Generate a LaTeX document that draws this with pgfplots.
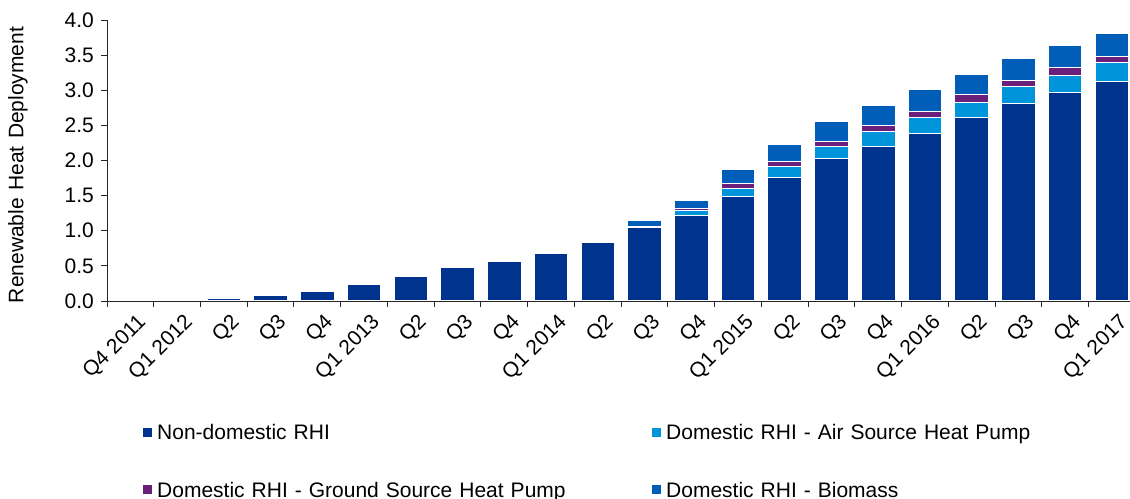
\documentclass[border=0pt]{standalone}
\usepackage{pgfplots}
\usepackage{pgfplotstable}
\pgfplotsset{compat=1.18}
\usepackage{fontspec}
\setmainfont{Liberation Sans}
\definecolor{cnd}{HTML}{00338D}
\definecolor{cash}{HTML}{0094DA}
\definecolor{cgs}{HTML}{6A1F7A}
\definecolor{cbio}{HTML}{005EB8}
\pgfplotstableread{
idx nd ash gs bio
0 0 0 0 0
1 0.005 0 0 0
2 0.038 0 0 0
3 0.076 0 0 0
4 0.142 0 0 0
5 0.232 0 0 0
6 0.346 0 0 0
7 0.479 0 0 0
8 0.568 0 0 0
9 0.678 0 0 0
10 0.83 0 0 0
11 1.04 0.015 0.01 0.085
12 1.22 0.068 0.029 0.12
13 1.49 0.111 0.071 0.194
14 1.757 0.159 0.068 0.242
15 2.029 0.171 0.071 0.286
16 2.205 0.203 0.09 0.287
17 2.385 0.224 0.088 0.315
18 2.609 0.221 0.108 0.287
19 2.811 0.243 0.088 0.31
20 2.967 0.241 0.114 0.31
21 3.121 0.27 0.087 0.334
}\datatable
\newcommand{\bigfont}{\fontsize{21bp}{25bp}\selectfont}
\begin{document}
\bigfont
\begin{tikzpicture}
\begin{axis}[
  at={(107bp,198bp)}, anchor=south west,
  scale only axis, width=1028.3bp, height=281bp,
  font=\bigfont,
  xmin=-0.5, xmax=21.5, ymin=0, ymax=4,
  axis lines*=left,
  axis on top,
  axis line style={line width=1bp, black!85},
  ybar stacked, bar width=0.72,
  xtick={-0.5,0.5,...,21.5},
  x tick label as interval,
  xticklabels={Q4 2011,Q1 2012,Q2,Q3,Q4,Q1 2013,Q2,Q3,Q4,Q1 2014,Q2,Q3,Q4,Q1 2015,Q2,Q3,Q4,Q1 2016,Q2,Q3,Q4,Q1 2017},
  xticklabel style={xshift=6bp, yshift=-4bp, rotate=45, anchor=north east, inner sep=1bp, font=\bigfont},
  ytick={0,0.5,...,4},
  yticklabel style={/pgf/number format/.cd,fixed,fixed zerofill,precision=1},
  /pgf/number format/assume math mode=true,
  tick align=outside,
  major tick length=6bp,
  tick style={line width=1bp, black!85},
  ylabel={Renewable\hspace{0.35em}Heat\hspace{0.35em}Deployment},
  ylabel style={at={(axis description cs:-0.0866,0.484)}, anchor=center, font=\bigfont},
  legend columns=2,
  legend cell align=left,
  legend style={at={(axis description cs:0.035,-0.436)}, anchor=north west,
    draw=none, fill=none, inner sep=0pt, row sep=36.5bp, font=\bigfont,
    nodes={inner sep=0pt, text height=16bp, text depth=5bp, text width=495bp, align=left},
    /tikz/every odd column/.append style={column sep=5bp}},
  legend image code/.code={\path[#1, draw=none] (0bp,-2.5bp) rectangle (9bp,6.5bp);},
]
\addplot[fill=cnd, draw=white, line width=1.1bp] table[x=idx,y=nd]{\datatable};
\addplot[fill=cash, draw=white, line width=1.1bp] table[x=idx,y=ash]{\datatable};
\addplot[fill=cgs, draw=white, line width=1.1bp] table[x=idx,y=gs]{\datatable};
\addplot[fill=cbio, draw=white, line width=1.1bp] table[x=idx,y=bio]{\datatable};
\legend{Non-domestic RHI,Domestic RHI - Air Source Heat Pump,Domestic RHI - Ground Source Heat Pump,Domestic RHI - Biomass}
\end{axis}
\pgfresetboundingbox
\path[use as bounding box] (0,0) rectangle (1130bp,499bp);
\end{tikzpicture}
\end{document}
